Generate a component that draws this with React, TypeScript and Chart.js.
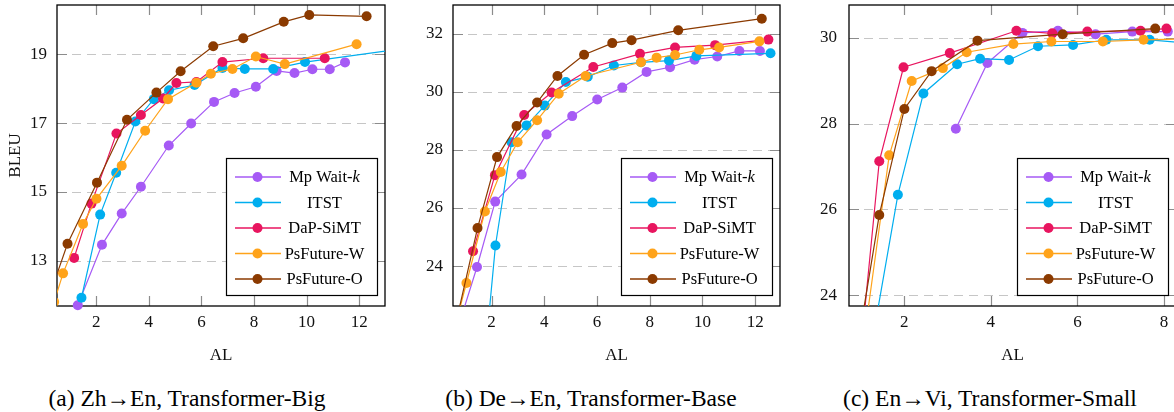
import React, { useEffect, useRef } from 'react';
import { Chart, registerables } from 'chart.js';

Chart.register(...registerables);

// ---------------- data ----------------
const SERIES_NAMES = ['Mp Wait-k', 'ITST', 'DaP-SiMT', 'PsFuture-W', 'PsFuture-O'];
const SERIES_COLORS = ['#a65af5', '#00aeef', '#e8155f', '#ffa31a', '#8b3a00'];

// (a) Zh->En, Transformer-Big
const zhEnWaitkAL = [1.30, 2.22, 2.97, 3.70, 4.76, 5.61, 6.48, 7.26, 8.07, 8.86, 9.54, 10.22, 10.88, 11.46];
const zhEnWaitkBLEU = [11.70, 13.46, 14.37, 15.15, 16.35, 16.99, 17.62, 17.88, 18.06, 18.52, 18.46, 18.57, 18.57, 18.77];
const zhEnItstAL = [1.44, 2.15, 2.76, 3.49, 4.19, 4.77, 5.74, 6.80, 7.65, 8.73, 9.94, 13.5];
const zhEnItstBLEU = [11.92, 14.34, 15.56, 17.05, 17.70, 17.96, 18.11, 18.61, 18.58, 18.58, 18.78, 19.15];
const zhEnDapAL = [1.16, 1.82, 2.77, 3.70, 4.54, 5.05, 5.81, 6.80, 8.35, 10.69];
const zhEnDapBLEU = [13.08, 14.66, 16.70, 17.24, 17.72, 18.17, 18.20, 18.78, 18.89, 18.89];
const zhEnPswAL = [0.40, 0.74, 1.50, 2.01, 2.97, 3.86, 4.73, 5.81, 6.36, 7.18, 8.07, 9.17, 11.90];
const zhEnPswBLEU = [11.80, 12.63, 14.07, 14.80, 15.76, 16.78, 17.70, 18.18, 18.44, 18.58, 18.94, 18.72, 19.30];
const zhEnPsoAL = [0.30, 0.91, 2.03, 3.17, 4.29, 5.21, 6.45, 7.59, 9.13, 10.10, 12.28];
const zhEnPsoBLEU = [12.15, 13.49, 15.27, 17.10, 17.89, 18.51, 19.24, 19.47, 19.95, 20.15, 20.11];

// (b) De->En, Transformer-Base
const deEnWaitkAL = [0.77, 1.45, 2.14, 3.14, 4.09, 5.06, 6.01, 6.96, 7.88, 8.77, 9.70, 10.56, 11.40, 12.18];
const deEnWaitkBLEU = [22.0, 23.97, 26.22, 27.15, 28.53, 29.16, 29.73, 30.14, 30.68, 30.84, 31.10, 31.21, 31.40, 31.40];
const deEnItstAL = [1.87, 2.15, 2.76, 3.33, 4.02, 4.82, 5.65, 6.64, 7.67, 8.73, 9.77, 12.58];
const deEnItstBLEU = [22.0, 24.71, 28.26, 28.84, 29.52, 30.33, 30.51, 30.90, 31.01, 31.07, 31.23, 31.32];
const deEnDapAL = [1.30, 2.13, 3.24, 4.28, 5.86, 7.63, 8.96, 10.48, 12.50];
const deEnDapBLEU = [24.51, 27.13, 29.20, 29.97, 30.85, 31.30, 31.52, 31.60, 31.79];
const deEnPswAL = [0.64, 1.05, 1.75, 2.35, 2.99, 3.73, 4.55, 5.57, 7.67, 8.26, 8.96, 9.88, 10.63, 12.16];
const deEnPswBLEU = [22.0, 23.42, 25.88, 27.24, 28.26, 29.02, 29.93, 30.54, 31.01, 31.17, 31.26, 31.44, 31.52, 31.73];
const deEnPsoAL = [0.64, 1.47, 2.21, 2.95, 3.73, 4.50, 5.51, 6.58, 7.31, 9.08, 12.25];
const deEnPsoBLEU = [22.0, 25.31, 27.75, 28.82, 29.63, 30.54, 31.27, 31.67, 31.77, 32.11, 32.51];

// (c) En->Vi, Transformer-Small
const enViWaitkAL = [3.19, 3.92, 4.73, 5.55, 6.42, 7.27, 8.09];
const enViWaitkBLEU = [27.88, 29.41, 30.11, 30.16, 30.08, 30.14, 30.14];
const enViItstAL = [1.27, 1.85, 2.44, 3.22, 3.75, 4.42, 5.09, 5.90, 6.67, 7.67, 8.6];
const enViItstBLEU = [23.0, 26.34, 28.70, 29.38, 29.51, 29.48, 29.80, 29.83, 29.95, 29.95, 29.87];
const enViDapAL = [1.02, 1.42, 1.98, 3.05, 4.59, 5.42, 6.23, 7.46, 8.06];
const enViDapBLEU = [23.0, 27.12, 29.31, 29.64, 30.16, 30.10, 30.14, 30.16, 30.21];
const enViPswAL = [1.07, 1.65, 2.17, 2.89, 3.44, 4.52, 5.40, 6.59, 7.53, 8.6];
const enViPswBLEU = [23.0, 27.26, 28.99, 29.29, 29.66, 29.85, 29.91, 29.91, 29.95, 29.97];
const enViPsoAL = [0.95, 1.42, 2.00, 2.63, 3.69, 5.66, 7.80];
const enViPsoBLEU = [23.0, 25.87, 28.34, 29.22, 29.93, 30.08, 30.21];

const zhEnXTicks = [2, 4, 6, 8, 10, 12];
const zhEnYTicks = [13, 15, 17, 19];
const deEnXTicks = [2, 4, 6, 8, 10, 12];
const deEnYTicks = [24, 26, 28, 30, 32];
const enViXTicks = [2, 4, 6, 8];
const enViYTicks = [24, 26, 28, 30];

const CAPTIONS = [
  '(a) Zh\u2192En, Transformer-Big',
  '(b) De\u2192En, Transformer-Base',
  '(c) En\u2192Vi, Transformer-Small',
];

// ---------------- styling ----------------
const FONT = '"Liberation Serif", "Times New Roman", serif';

const framePlugin = {
  id: 'paperFrame',
  beforeDatasetsDraw(chart: any) {
    const { ctx, chartArea: a, scales } = chart;
    const xs = scales.x;
    const ys = scales.y;
    ctx.save();
    ctx.strokeStyle = '#c6c6c6';
    ctx.lineWidth = 1;
    ctx.setLineDash([9, 6]);
    ys.ticks.forEach((t: any) => {
      const py = Math.round(ys.getPixelForValue(t.value)) + 0.5;
      ctx.beginPath();
      ctx.moveTo(a.left, py);
      ctx.lineTo(a.right, py);
      ctx.stroke();
    });
    ctx.setLineDash([]);
    ctx.strokeStyle = '#8c8c8c';
    ctx.lineWidth = 1.2;
    const L = 10;
    ys.ticks.forEach((t: any) => {
      const py = Math.round(ys.getPixelForValue(t.value)) + 0.5;
      ctx.beginPath();
      ctx.moveTo(a.left, py);
      ctx.lineTo(a.left + L, py);
      ctx.moveTo(a.right - L, py);
      ctx.lineTo(a.right, py);
      ctx.stroke();
    });
    xs.ticks.forEach((t: any) => {
      const px = Math.round(xs.getPixelForValue(t.value)) + 0.5;
      ctx.beginPath();
      ctx.moveTo(px, a.bottom);
      ctx.lineTo(px, a.bottom - L);
      ctx.moveTo(px, a.top);
      ctx.lineTo(px, a.top + L);
      ctx.stroke();
    });
    ctx.strokeStyle = '#000';
    ctx.lineWidth = 1.3;
    ctx.strokeRect(a.left, a.top, a.right - a.left, a.bottom - a.top);
    ctx.restore();
  },
};

const legendPlugin = {
  id: 'paperLegend',
  afterDatasetsDraw(chart: any, _args: any, opts: any) {
    if (!opts || !opts.show) return;
    const { ctx, chartArea: a } = chart;
    const w = 151;
    const h = 137;
    const bx = Math.round(a.right - opts.right - w) + 0.5;
    const by = Math.round(a.bottom - opts.bottom - h) + 0.5;
    ctx.save();
    ctx.fillStyle = '#fff';
    ctx.fillRect(bx, by, w, h);
    ctx.strokeStyle = '#000';
    ctx.lineWidth = 1.2;
    ctx.strokeRect(bx, by, w, h);
    const normal = `16.5px ${FONT}`;
    const italic = `italic 16.5px ${FONT}`;
    chart.data.datasets.forEach((ds: any, i: number) => {
      const cy = by + 18.5 + i * 25.5;
      ctx.strokeStyle = ds.borderColor;
      ctx.lineWidth = 1.3;
      ctx.beginPath();
      ctx.moveTo(bx + 8.5, cy);
      ctx.lineTo(bx + 54.5, cy);
      ctx.stroke();
      ctx.fillStyle = ds.borderColor;
      ctx.beginPath();
      ctx.arc(bx + 31, cy, 5, 0, Math.PI * 2);
      ctx.fill();
      ctx.fillStyle = '#000';
      ctx.textBaseline = 'middle';
      ctx.textAlign = 'left';
      const label: string = ds.label;
      const cx = bx + 98;
      if (label.endsWith('-k')) {
        const head = label.slice(0, -1);
        ctx.font = normal;
        const w1 = ctx.measureText(head).width;
        ctx.font = italic;
        const w2 = ctx.measureText('k').width;
        const sx = cx - (w1 + w2) / 2;
        ctx.font = normal;
        ctx.fillText(head, sx, cy + 1);
        ctx.font = italic;
        ctx.fillText('k', sx + w1, cy + 1);
      } else {
        ctx.font = normal;
        const tw = ctx.measureText(label).width;
        ctx.fillText(label, cx - tw / 2, cy + 1);
      }
    });
    ctx.restore();
  },
};

type Series = { al: number[]; bleu: number[]; clip: any };
type PanelCfg = {
  left: number;
  width: number;
  height: number;
  yWidth: number;
  padRight: number;
  yPad: number;
  xMin: number;
  xMax: number;
  yMin: number;
  yMax: number;
  xTicks: number[];
  yTicks: number[];
  yTitle: boolean;
  series: Series[];
};

const EDGE = { left: 0, right: 0, top: 0, bottom: 0 };
const FREE = { left: 8, right: 8, top: 8, bottom: 8 };

const PANELS: PanelCfg[] = [
  {
    left: 0, width: 390, height: 372, yWidth: 57, padRight: 5, yPad: 10,
    xMin: 0.51, xMax: 12.98, yMin: 11.68, yMax: 20.44,
    xTicks: zhEnXTicks, yTicks: zhEnYTicks, yTitle: true,
    series: [
      { al: zhEnWaitkAL, bleu: zhEnWaitkBLEU, clip: FREE },
      { al: zhEnItstAL, bleu: zhEnItstBLEU, clip: EDGE },
      { al: zhEnDapAL, bleu: zhEnDapBLEU, clip: FREE },
      { al: zhEnPswAL, bleu: zhEnPswBLEU, clip: EDGE },
      { al: zhEnPsoAL, bleu: zhEnPsoBLEU, clip: EDGE },
    ],
  },
  {
    left: 395, width: 390, height: 372, yWidth: 58, padRight: 5, yPad: 10,
    xMin: 0.54, xMax: 12.94, yMin: 22.63, yMax: 32.98,
    xTicks: deEnXTicks, yTicks: deEnYTicks, yTitle: false,
    series: [
      { al: deEnWaitkAL, bleu: deEnWaitkBLEU, clip: EDGE },
      { al: deEnItstAL, bleu: deEnItstBLEU, clip: EDGE },
      { al: deEnDapAL, bleu: deEnDapBLEU, clip: FREE },
      { al: deEnPswAL, bleu: deEnPswBLEU, clip: EDGE },
      { al: deEnPsoAL, bleu: deEnPsoBLEU, clip: EDGE },
    ],
  },
  {
    left: 790, width: 392, height: 372, yWidth: 59, padRight: 6, yPad: 12,
    xMin: 0.72, xMax: 8.28, yMin: 23.75, yMax: 30.76,
    xTicks: enViXTicks, yTicks: enViYTicks, yTitle: false,
    series: [
      { al: enViWaitkAL, bleu: enViWaitkBLEU, clip: FREE },
      { al: enViItstAL, bleu: enViItstBLEU, clip: EDGE },
      { al: enViDapAL, bleu: enViDapBLEU, clip: EDGE },
      { al: enViPswAL, bleu: enViPswBLEU, clip: EDGE },
      { al: enViPsoAL, bleu: enViPsoBLEU, clip: EDGE },
    ],
  },
];

function Panel({ cfg }: { cfg: PanelCfg }) {
  const ref = useRef<HTMLCanvasElement>(null);
  useEffect(() => {
    if (!ref.current) return;
    const chartBottom = 306;
    const xHeight = cfg.height - chartBottom;
    const chart = new Chart(ref.current, {
      type: 'line',
      data: {
        datasets: cfg.series.map((s, i) => ({
          label: SERIES_NAMES[i],
          data: s.al.map((v, j) => ({ x: v, y: s.bleu[j] })),
          borderColor: SERIES_COLORS[i],
          backgroundColor: SERIES_COLORS[i],
          pointBackgroundColor: SERIES_COLORS[i],
          pointBorderColor: SERIES_COLORS[i],
          pointRadius: 5,
          pointBorderWidth: 0,
          borderWidth: 1.2,
          tension: 0,
          fill: false,
          clip: s.clip,
          order: 5 - i,
        })),
      },
      options: {
        responsive: false,
        animation: false,
        events: [],
        layout: { padding: { left: 0, top: 0, right: cfg.padRight, bottom: 0 } },
        plugins: {
          legend: { display: false },
          tooltip: { enabled: false },
          paperLegend: { show: true, right: 8, bottom: 11 },
        } as any,
        scales: {
          x: {
            type: 'linear',
            min: cfg.xMin,
            max: cfg.xMax,
            afterBuildTicks: (s: any) => {
              s.ticks = cfg.xTicks.map((v) => ({ value: v }));
            },
            afterFit: (s: any) => {
              s.height = xHeight;
              s.paddingLeft = 0;
              s.paddingRight = 0;
            },
            grid: { display: false, drawTicks: false },
            border: { display: false },
            ticks: {
              font: { family: FONT, size: 17 },
              color: '#111',
              padding: 6,
              maxRotation: 0,
              autoSkip: false,
              callback: (v: any) => String(v),
            },
            title: {
              display: true,
              text: 'AL',
              font: { family: FONT, size: 17 },
              color: '#111',
              padding: { top: 0, bottom: 6 },
            },
          },
          y: {
            type: 'linear',
            min: cfg.yMin,
            max: cfg.yMax,
            afterBuildTicks: (s: any) => {
              s.ticks = cfg.yTicks.map((v) => ({ value: v }));
            },
            afterFit: (s: any) => {
              s.width = cfg.yWidth;
              s.paddingTop = 0;
              s.paddingBottom = 0;
            },
            grid: { display: false, drawTicks: false },
            border: { display: false },
            ticks: {
              font: { family: FONT, size: 17 },
              color: '#111',
              padding: cfg.yPad,
              autoSkip: false,
              callback: (v: any) => String(v),
            },
            title: {
              display: cfg.yTitle,
              text: 'BLEU',
              font: { family: FONT, size: 17 },
              color: '#111',
              padding: { top: 5, bottom: 0 },
            },
          },
        },
      } as any,
      plugins: [framePlugin, legendPlugin],
    });
    return () => chart.destroy();
  }, [cfg]);
  return (
    <div style={{ position: 'absolute', left: cfg.left, top: 0, width: cfg.width, height: cfg.height }}>
      <canvas ref={ref} width={cfg.width} height={cfg.height} style={{ display: 'block' }} />
    </div>
  );
}

const CAPTION_CENTERS = [187, 591, 990];

export default function App() {
  return (
    <div
      style={{
        position: 'fixed',
        left: 0,
        top: 0,
        width: 1174,
        height: 412,
        overflow: 'hidden',
        background: '#fff',
      }}
    >
      {PANELS.map((p, i) => (
        <Panel key={i} cfg={p} />
      ))}
      {CAPTIONS.map((c, i) => (
        <div
          key={'c' + i}
          style={{
            position: 'absolute',
            left: CAPTION_CENTERS[i] - 200,
            width: 400,
            top: 385,
            lineHeight: '26px',
            textAlign: 'center',
            fontFamily: FONT,
            fontSize: 23.5,
            color: '#000',
            whiteSpace: 'nowrap',
          }}
        >
          {c}
        </div>
      ))}
    </div>
  );
}
